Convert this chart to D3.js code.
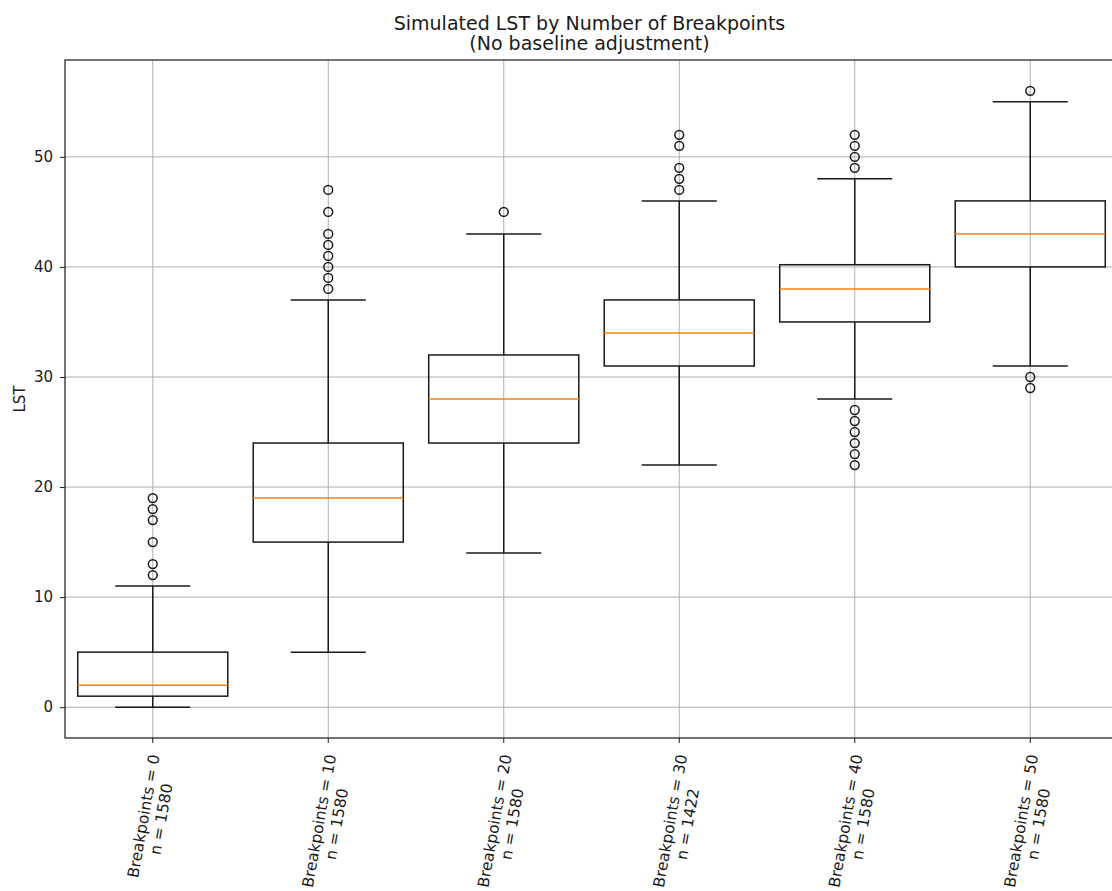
<!DOCTYPE html>
<html>
<head>
<meta charset="utf-8">
<script src="https://cdn.jsdelivr.net/npm/d3@7"></script>
<style>
  html, body { margin: 0; padding: 0; background: #fff; }
  svg { display: block; font-family: "DejaVu Sans", sans-serif; }
</style>
</head>
<body>
<svg id="chart" width="1112" height="891"></svg>
<script>
"use strict";

// data
var breakpoints = [0, 10, 20, 30, 40, 50];
var counts = [1580, 1580, 1580, 1422, 1580, 1580];
var whiskerLow = [0, 5, 14, 22, 28, 31];
var q1 = [1, 15, 24, 31, 35, 40];
var medians = [2, 19, 28, 34, 38, 43];
var q3 = [5, 24, 32, 37, 40.2, 46];
var whiskerHigh = [11, 37, 43, 46, 48, 55];
var outliers = [
  [12, 13, 15, 17, 18, 19],
  [38, 39, 40, 41, 42, 43, 45, 47],
  [45],
  [47, 48, 49, 51, 52],
  [22, 23, 24, 25, 26, 27, 49, 50, 51, 52],
  [29, 30, 56]
];
var yTicks = [0, 10, 20, 30, 40, 50];

var margin = { left: 65, top: 60, right: 1118, bottom: 738 };
var boxWidth = 0.855;

var svg = d3.select('#chart');

var x = d3.scaleLinear().domain([0.5, breakpoints.length + 0.5]).range([margin.left, margin.right]);
var y = d3.scaleLinear().domain([-2.8, 58.8]).range([margin.bottom, margin.top]);

var groups = breakpoints.map(function(b, i) {
  return {
    pos: i + 1,
    lo: whiskerLow[i], q1: q1[i], med: medians[i], q3: q3[i], hi: whiskerHigh[i],
    fliers: outliers[i]
  };
});

//grid
var grid = svg.append('g').attr('class', 'grid').attr('stroke', '#b0b0b0').attr('stroke-width', 1);
grid.selectAll('.gx').data(groups).enter().append('line')
  .attr('x1', function(d) { return x(d.pos); })
  .attr('x2', function(d) { return x(d.pos); })
  .attr('y1', margin.top).attr('y2', margin.bottom);
grid.selectAll('.gy').data(yTicks).enter().append('line')
  .attr('x1', margin.left).attr('x2', margin.right)
  .attr('y1', function(d) { return y(d); })
  .attr('y2', function(d) { return y(d); });

//boxes
var boxes = svg.append('g').attr('class', 'boxes').selectAll('.box').data(groups).enter().append('g').classed('box', true);
var half = function(w) { return (x(1 + w / 2) - x(1)); };
var ink = '#1a1a1a';

boxes.append('rect')
  .attr('x', function(d) { return x(d.pos) - half(boxWidth); })
  .attr('width', half(boxWidth) * 2)
  .attr('y', function(d) { return y(d.q3); })
  .attr('height', function(d) { return y(d.q1) - y(d.q3); })
  .attr('fill', 'none').attr('stroke', ink).attr('stroke-width', 1.5);

// whiskers
boxes.append('line')
  .attr('x1', function(d) { return x(d.pos); }).attr('x2', function(d) { return x(d.pos); })
  .attr('y1', function(d) { return y(d.q1); }).attr('y2', function(d) { return y(d.lo); })
  .attr('stroke', ink).attr('stroke-width', 1.5);
boxes.append('line')
  .attr('x1', function(d) { return x(d.pos); }).attr('x2', function(d) { return x(d.pos); })
  .attr('y1', function(d) { return y(d.q3); }).attr('y2', function(d) { return y(d.hi); })
  .attr('stroke', ink).attr('stroke-width', 1.5);

// caps
['lo', 'hi'].forEach(function(k) {
  boxes.append('line')
    .attr('x1', function(d) { return x(d.pos) - half(boxWidth / 2); })
    .attr('x2', function(d) { return x(d.pos) + half(boxWidth / 2); })
    .attr('y1', function(d) { return y(d[k]); }).attr('y2', function(d) { return y(d[k]); })
    .attr('stroke', ink).attr('stroke-width', 1.5);
});

// medians
boxes.append('line')
  .attr('x1', function(d) { return x(d.pos) - half(boxWidth); })
  .attr('x2', function(d) { return x(d.pos) + half(boxWidth); })
  .attr('y1', function(d) { return y(d.med); }).attr('y2', function(d) { return y(d.med); })
  .attr('stroke', '#ff7f0e').attr('stroke-width', 1.5);

// fliers
boxes.selectAll('.flier').data(function(d) {
  return d.fliers.map(function(v) { return { pos: d.pos, v: v }; });
}).enter().append('circle').classed('flier', true)
  .attr('cx', function(d) { return x(d.pos); })
  .attr('cy', function(d) { return y(d.v); })
  .attr('r', 4.4)
  .attr('fill', 'none').attr('stroke', ink).attr('stroke-width', 1.5);

//spines
svg.append('rect')
  .attr('x', margin.left).attr('y', margin.top)
  .attr('width', margin.right - margin.left).attr('height', margin.bottom - margin.top)
  .attr('fill', 'none').attr('stroke', ink).attr('stroke-width', 1.2);

//y axis
var yAxis = svg.append('g').attr('transform', 'translate(' + margin.left + ',0)')
  .call(d3.axisLeft(y).tickValues(yTicks).tickSize(5).tickPadding(7).tickFormat(d3.format('d')));
yAxis.select('.domain').remove();
yAxis.selectAll('text').attr('font-size', 15).attr('fill', ink).attr('font-family', '"DejaVu Sans", sans-serif');
yAxis.selectAll('line').attr('stroke', ink);

svg.append('text')
  .attr('transform', 'translate(25,' + ((margin.top + margin.bottom) / 2) + ') rotate(-90)')
  .attr('text-anchor', 'middle').attr('font-size', 15).attr('fill', ink).text('LST');

//x axis
var xAxis = svg.append('g').attr('transform', 'translate(0,' + margin.bottom + ')');
xAxis.selectAll('.xt').data(groups).enter().append('line')
  .attr('x1', function(d) { return x(d.pos); }).attr('x2', function(d) { return x(d.pos); })
  .attr('y1', 0).attr('y2', 5).attr('stroke', ink);

var labels = xAxis.selectAll('.xl').data(groups).enter().append('g').classed('xl', true);
var labelText = labels.append('text')
  .attr('transform', 'rotate(-80)')
  .attr('text-anchor', 'middle').attr('font-size', 15.5).attr('fill', ink);
labelText.append('tspan').attr('x', 0).attr('dy', 0)
  .text(function(d, i) { return 'Breakpoints = ' + breakpoints[i]; });
labelText.append('tspan').attr('x', 0).attr('dy', '1.15em')
  .text(function(d, i) { return 'n = ' + counts[i]; });

// place each rotated label so its bounding box hangs centred below the tick
labels.each(function(d) {
  var g = d3.select(this);
  var r = this.getBoundingClientRect();
  var cx = r.left + r.width / 2;
  var dx = x(d.pos) - cx;
  var dy = (margin.bottom + 15) - r.top;
  g.attr('transform', 'translate(' + dx + ',' + dy + ')');
});

//title
var cxTitle = (margin.left + margin.right) / 2 - 2;
var title = svg.append('text').attr('text-anchor', 'middle').attr('font-size', 19).attr('fill', ink)
  .attr('x', cxTitle).attr('y', 30);
title.append('tspan').attr('x', cxTitle).text('Simulated LST by Number of Breakpoints');
title.append('tspan').attr('x', cxTitle).attr('dy', '1.07em').text('(No baseline adjustment)');
</script>
</body>
</html>
